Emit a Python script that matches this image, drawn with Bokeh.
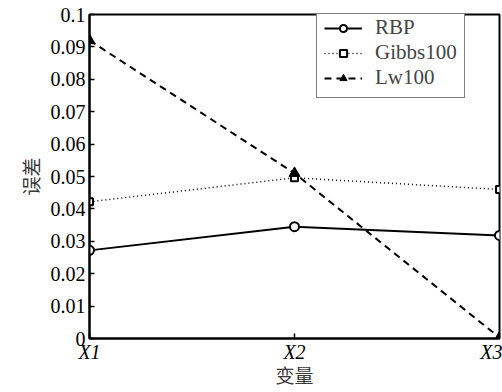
from bokeh.plotting import figure
from bokeh.models import FixedTicker, Legend, LegendItem
from bokeh.embed import file_html
from bokeh.resources import INLINE

categories = ["X1", "X2", "X3"]
x_pos = [1, 2, 3]
rbp = [0.0272, 0.0345, 0.0318]
gibbs100 = [0.0422, 0.0496, 0.0460]
lw100 = [0.0920, 0.0510, 0.0003]
y_ticks = [0, 0.01, 0.02, 0.03, 0.04, 0.05, 0.06, 0.07, 0.08, 0.09, 0.1]
y_tick_labels = ["0", "0.01", "0.02", "0.03", "0.04", "0.05", "0.06", "0.07", "0.08", "0.09", "0.1"]

SERIF = "Liberation Serif"
CJK = "Noto Sans CJK SC"

p = figure(width=502, height=392, output_backend="svg", toolbar_location=None,
           x_range=(1, 3), y_range=(0, 0.1),
           min_border_left=89, min_border_right=3, min_border_top=14, min_border_bottom=54)
p.grid.visible = False
p.background_fill_color = "white"
p.border_fill_color = "white"
p.outline_line_color = "black"
p.outline_line_width = 2

for ax in (p.xaxis[0], p.yaxis[0]):
    ax.axis_line_width = 2
    ax.axis_line_color = "black"
    ax.major_tick_in = 5
    ax.major_tick_out = 0
    ax.major_tick_line_width = 1.5
    ax.minor_tick_line_color = None
    ax.major_label_text_font = SERIF
    ax.major_label_text_font_size = "20px"
    ax.major_label_text_color = "black"
    ax.axis_label_text_font = CJK
    ax.axis_label_text_font_size = "19px"
    ax.axis_label_text_font_style = "normal"
    ax.axis_label_text_color = "#3a3a3a"

p.xaxis.ticker = FixedTicker(ticks=x_pos)
p.xaxis.major_label_overrides = {x: c for x, c in zip(x_pos, categories)}
p.xaxis.major_label_text_font_style = "italic"
p.xaxis.major_label_standoff = 2
p.xaxis.axis_label = "变量"
p.xaxis.axis_label_standoff = -5

p.yaxis.ticker = FixedTicker(ticks=y_ticks)
p.yaxis.major_label_overrides = {t: l for t, l in zip(y_ticks, y_tick_labels)}
p.yaxis.major_label_standoff = 4
p.yaxis.axis_label = "误差"
p.yaxis.axis_label_standoff = 4

l1 = p.line(x_pos, rbp, line_color="black", line_width=2)
m1 = p.scatter(x_pos, rbp, marker="circle", size=9, fill_color="white",
               line_color="black", line_width=2)
l2 = p.line(x_pos, gibbs100, line_color="black", line_width=1.5, line_dash="1 3")
m2 = p.scatter(x_pos, gibbs100, marker="square", size=7, fill_color="white",
               line_color="black", line_width=2)
l3 = p.line(x_pos, lw100, line_color="black", line_width=2, line_dash="7 5")
m3 = p.scatter(x_pos, lw100, marker="triangle", size=11, fill_color="black",
               line_color="black", line_width=1)

legend = Legend(items=[
    LegendItem(label="RBP", renderers=[l1, m1]),
    LegendItem(label="Gibbs100", renderers=[l2, m2]),
    LegendItem(label="Lw100", renderers=[l3, m3]),
], location=(227, 240))
legend.label_text_font = SERIF
legend.label_text_font_size = "21px"
legend.label_height = 18
legend.glyph_height = 18
legend.glyph_width = 38
legend.spacing = -8
legend.padding = 7
legend.margin = 0
legend.label_standoff = 13
legend.border_line_color = "black"
legend.border_line_width = 1.5
legend.background_fill_alpha = 1
p.add_layout(legend, "center")

open("out.html", "w").write(file_html(p, INLINE))
